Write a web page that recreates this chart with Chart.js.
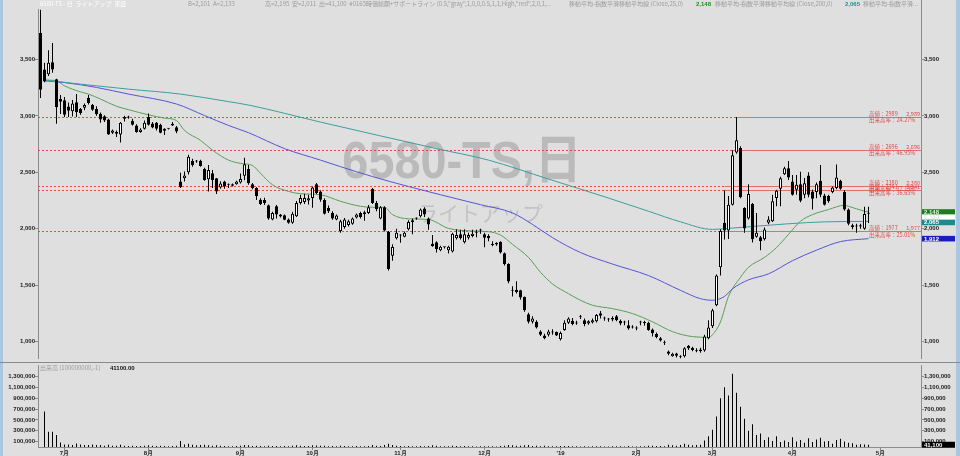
<!DOCTYPE html>
<html>
<head>
<meta charset="utf-8">
<script src="https://cdn.jsdelivr.net/npm/chart.js@4.4.1/dist/chart.umd.min.js"></script>
<style>
  html, body { margin: 0; padding: 0; background: #dfdfdf; }
  #wrap { position: relative; width: 960px; height: 456px; overflow: hidden; background: #dfdfdf; }
  #price { position: absolute; left: 0; top: 0; }
  #vol { position: absolute; left: 0; top: 362px; }
</style>
</head>
<body>
<div id="wrap">
  <canvas id="price" width="960" height="362"></canvas>
  <canvas id="vol" width="960" height="94"></canvas>
</div>
<script>
// ---- data (one entry per trading day, 2018/6/22 .. 2019/4/26) ----
const monthTickIdx = [6, 27, 50, 68, 90, 111, 130, 149, 168, 188, 210];
const monthLabels = ['7月', '8月', '9月', '10月', '11月', '12月', "'19", '2月', '3月', '4月', '5月'];
const priceTicks = [1000, 1500, 2000, 2500, 3000, 3500];
const volumeTicks = [100000, 300000, 500000, 700000, 900000, 1100000, 1300000];

const opens = [
  3734,3412,3368,3476,3325,3149,3138,3082,3040,3120,
  3061,3073,3160,3096,3061,3018,2997,2968,2850,2857,
  2836,2989,2985,2956,2915,2857,2886,2991,2933,2939,
  2921,2886,2886,2930,2900,2419,2447,2500,2603,2595,
  2603,2529,2439,2491,2447,2366,2418,2390,2380,2395,
  2410,2470,2529,2395,2360,2257,2255,2208,2082,2200,
  2125,2120,2082,2053,2111,2228,2237,2250,2272,2395,
  2330,2257,2184,2140,2082,1980,2015,2032,2044,2100,
  2140,2130,2140,2351,2228,2090,2190,1973,1760,1915,
  1940,1930,1995,2060,2090,2110,2180,2090,1868,1880,
  1810,1835,1810,1798,1915,1950,1880,1920,1935,1965,
  1985,1950,1935,1855,1860,1885,1783,1687,1450,1460,
  1455,1395,1243,1175,1175,1090,1053,1060,1080,1085,
  1020,1103,1167,1185,1160,1220,1190,1160,1170,1180,
  1250,1205,1195,1195,1225,1185,1170,1145,1125,1115,
  1175,1170,1167,1108,1068,1030,990,912,870,895,
  870,870,962,945,920,915,920,1030,1135,1322,
  1658,2053,1985,2213,2675,2715,2184,2090,2219,1930,
  1925,1906,2053,2067,2272,2355,2483,2535,2418,2345,
  2395,2301,2471,2330,2325,2425,2295,2290,2325,2360,
  2425,2325,2170,2030,2020,2020,2000,2133
];
const highs = [
  3940,3470,3582,3646,3330,3184,3167,3118,3140,3193,
  3070,3110,3184,3105,3085,3030,3005,2975,2880,2870,
  2945,3000,3000,2975,2925,2890,2960,3020,2945,2945,
  2930,2890,2890,2945,2910,2497,2506,2655,2620,2610,
  2612,2540,2564,2520,2450,2420,2425,2400,2400,2425,
  2490,2630,2564,2405,2367,2270,2275,2215,2150,2210,
  2130,2125,2090,2150,2245,2300,2310,2300,2375,2405,
  2340,2270,2205,2155,2125,2080,2095,2080,2100,2135,
  2150,2160,2210,2360,2245,2200,2200,1980,1862,2000,
  1950,1975,2075,2090,2100,2180,2190,2100,1945,1890,
  1850,1840,1850,1965,1995,1990,1995,1965,1990,1990,
  2000,1965,1950,1890,1880,1890,1790,1695,1490,1535,
  1460,1400,1255,1225,1190,1100,1070,1105,1110,1090,
  1090,1190,1215,1210,1185,1235,1205,1190,1205,1245,
  1270,1220,1210,1225,1235,1195,1185,1190,1145,1135,
  1185,1185,1175,1115,1080,1040,1010,920,900,900,
  880,950,970,955,940,945,1060,1190,1290,1595,
  1995,2341,2290,2696,2989,2730,2190,2395,2228,2140,
  1935,2010,2110,2300,2345,2460,2550,2600,2475,2475,
  2505,2450,2500,2345,2410,2565,2310,2300,2375,2570,
  2435,2340,2180,2045,2045,2045,2195,2195
];
const lows = [
  3158,3298,3354,3383,2930,3017,2991,2991,2995,2990,
  3010,3050,3100,3045,3000,2940,2945,2833,2840,2813,
  2763,2950,2975,2915,2850,2850,2880,2915,2890,2870,
  2845,2830,2880,2910,2845,2360,2419,2480,2550,2585,
  2550,2425,2330,2360,2307,2354,2355,2360,2375,2390,
  2400,2430,2390,2350,2255,2210,2210,2080,2075,2090,
  2100,2075,2045,2045,2105,2215,2220,2215,2185,2307,
  2240,2125,2140,2080,2075,1965,2000,2020,2035,2090,
  2090,2070,2130,2220,2155,2085,1975,1630,1716,1905,
  1875,1925,1985,1950,2080,2100,2105,1990,1840,1790,
  1800,1825,1780,1790,1905,1905,1870,1905,1925,1925,
  1955,1835,1890,1845,1850,1780,1675,1518,1400,1425,
  1370,1265,1160,1160,1115,1050,1020,1045,1060,1050,
  1010,1095,1155,1145,1150,1200,1135,1150,1160,1170,
  1205,1185,1175,1180,1180,1145,1145,1105,1115,1100,
  1145,1140,1095,1045,1030,1000,970,880,865,860,
  850,860,925,915,905,900,910,1020,1120,1312,
  1585,1905,1910,2205,2665,2270,1965,2082,1877,1920,
  1810,1895,2040,2060,2200,2200,2475,2432,2295,2300,
  2235,2270,2280,2170,2270,2280,2205,2230,2315,2350,
  2345,2160,2030,1995,1965,2000,1990,2050
];
const closes = [
  3231,3304,3471,3412,3076,3125,3009,3046,3110,3033,
  3026,3096,3114,3055,3015,2968,2959,2836,2870,2842,
  2939,2974,2990,2921,2857,2880,2939,2921,2898,2886,
  2851,2868,2886,2915,2862,2368,2471,2638,2564,2600,
  2555,2432,2520,2432,2330,2400,2374,2390,2395,2418,
  2440,2571,2404,2360,2287,2220,2228,2090,2140,2125,
  2108,2080,2053,2132,2228,2272,2272,2270,2366,2316,
  2257,2132,2155,2090,2117,2067,2082,2067,2090,2125,
  2105,2145,2190,2228,2175,2190,1985,1643,1839,1965,
  1945,1965,2060,2075,2090,2170,2125,2038,1845,1820,
  1840,1835,1840,1956,1945,1915,1950,1945,1955,1965,
  1985,1920,1915,1862,1875,1790,1687,1532,1450,1440,
  1390,1278,1175,1205,1125,1060,1030,1090,1085,1055,
  1075,1167,1205,1155,1170,1220,1155,1180,1190,1235,
  1230,1205,1195,1210,1190,1160,1168,1115,1125,1115,
  1170,1165,1103,1073,1040,1010,990,892,892,875,
  865,942,942,925,915,930,1044,1125,1278,1585,
  1980,1985,2213,2652,2784,2278,2003,2307,1906,1965,
  1890,1994,2082,2243,2336,2447,2535,2454,2301,2389,
  2248,2404,2301,2265,2395,2301,2213,2243,2365,2454,
  2355,2170,2044,2015,2020,2030,2130,2133
];
const volumes = [
  null,654000,279000,279000,220000,84000,48000,48000,36000,66000,
  48000,36000,36000,45000,36000,36000,23000,40000,25000,25000,
  40000,25000,20000,25000,20000,18000,25000,30000,22000,20000,
  25000,20000,15000,18000,22000,110000,45000,60000,40000,30000,
  35000,40000,30000,25000,30000,22000,18000,15000,15000,18000,
  22000,35000,30000,20000,25000,20000,15000,25000,18000,20000,
  15000,18000,15000,25000,30000,22000,20000,18000,30000,28000,
  22000,25000,15000,18000,15000,25000,18000,15000,15000,18000,
  15000,15000,20000,35000,22000,20000,35000,60000,35000,25000,
  20000,15000,18000,15000,12000,18000,15000,20000,30000,25000,
  15000,12000,15000,25000,18000,15000,18000,12000,12000,10000,
  12000,15000,12000,15000,10000,20000,25000,35000,30000,25000,
  22000,30000,35000,20000,25000,15000,22000,15000,12000,15000,
  18000,20000,18000,15000,12000,10000,15000,10000,12000,15000,
  12000,10000,10000,12000,12000,15000,10000,18000,10000,10000,
  12000,15000,25000,22000,20000,18000,15000,40000,30000,25000,
  35000,60000,40000,30000,35000,40000,120000,200000,320000,560000,
  900000,1100000,950000,1350000,1000000,740000,520000,300000,420000,220000,
  250000,130000,180000,110000,200000,90000,120000,90000,180000,100000,
  130000,80000,160000,90000,140000,170000,100000,110000,60000,130000,
  150000,100000,80000,70000,40000,50000,45000,41100
];

// moving average lines, [day index, value] read at sample points
const ema25 = [[1,3318],[4,3310],[6,3266],[10,3213],[12,3193],[15,3149],[19,3085],[22,3055],[27,3009],[31,2980],
  [34,2959],[36,2871],[40,2783],[43,2696],[47,2608],[50,2579],[53,2560],[55,2491],[58,2389],[62,2331],
  [65,2310],[70,2301],[75,2243],[80,2199],[83,2190],[86,2190],[88,2125],[92,2088],[97,2082],[102,2003],
  [108,1980],[112,1974],[115,1944],[118,1862],[122,1746],[125,1614],[128,1511],[132,1424],[135,1366],[138,1322],
  [143,1292],[148,1248],[153,1175],[158,1088],[163,1044],[167,1038],[168,1060],[170,1175],[172,1400],[175,1570],
  [177,1658],[181,1746],[184,1833],[187,1950],[190,2067],[193,2125],[197,2170],[201,2208],[202,2199],[206,2155],[207,2148]];
const ema200 = [[1,3318],[10,3281],[22,3237],[35,3193],[47,3126],[52,3096],[70,2945],[99,2710],[112,2608],[127,2440],
  [142,2272],[152,2155],[160,2061],[168,1994],[172,2003],[179,2023],[187,2044],[196,2061],[207,2065]];
const ema75 = [[1,3310],[6,3295],[14,3252],[22,3193],[34,3105],[41,3003],[47,2915],[52,2851],[61,2710],[70,2608],
  [75,2550],[83,2462],[92,2374],[100,2301],[110,2213],[118,2140],[123,2038],[128,1921],[135,1789],[143,1687],
  [152,1585],[160,1454],[165,1380],[168,1366],[171,1400],[173,1468],[177,1547],[182,1600],[188,1717],[194,1810],
  [200,1886],[207,1912]];

// support lines: level, day it starts from, volume ratio text
const supportLevels = [2989, 2696, 2380, 2341, 1977];
const supportFrom = [174, 173, 171, 171, 171];
const supportRatio = ['24.27%', '46.95%', '27.13%', '36.65%', '25.01%'];

// last values shown on the right axis
const lastEma25 = 2148, lastClose = 2133, lastEma200 = 2065, lastEma75 = 1912, lastVolume = 41100;

// ---- styles ----
const style = {
  axis: '#8c8c8c',
  tick: '#1c1c1c',
  up: '#ffffff',
  down: '#000000',
  ema25: '#55a055',
  ema200: '#3c9e9e',
  ema75: '#5454d8',
  support: '#e04a4a',
  frame: '#aac6e2',
};
const tickFont = { family: 'Liberation Sans', size: 6, weight: 'bold' };
const fmt = (v) => Math.round(v).toLocaleString('en-US');
const X_MIN = -0.625, X_MAX = 220.125;

const bodies = opens.map((o, i) => ({ x: i, y: [o, closes[i]] }));
const bodyColors = opens.map((o, i) => (closes[i] > o ? style.up : style.down));
const wicks = lows.map((l, i) => ({ x: i, y: [l, highs[i]] }));
const pts = (arr) => arr.map(([x, y]) => ({ x, y }));

function yAxis(position, min, max, tickValues, width) {
  return {
    position, min, max,
    afterFit(s) { s.width = width; },
    afterBuildTicks(s) { s.ticks = tickValues.map((v) => ({ value: v })); },
    ticks: { font: tickFont, color: style.tick, padding: 0, callback: (v) => fmt(v) },
    grid: { drawOnChartArea: false, tickLength: 3, color: style.axis },
    border: { color: style.axis },
  };
}

function frameStrips(ctx, h) {
  ctx.fillStyle = style.frame;
  ctx.fillRect(0, 0, 3, h);
  ctx.fillRect(956, 0, 4, h);
}

const pricePaint = {
  id: 'pricePaint',
  beforeDatasetsDraw(chart) {
    const { ctx, chartArea: a, scales } = chart;
    const x = scales.x, y = scales.y;
    ctx.save();
    // watermark
    ctx.fillStyle = '#bababa';
    ctx.textAlign = 'center';
    ctx.textBaseline = 'alphabetic';
    ctx.save();
    ctx.translate(462, 178);
    ctx.scale(0.9, 1);
    ctx.font = 'bold 52px "Liberation Sans", "Noto Sans CJK JP"';
    ctx.fillText('6580-TS,日', 0, 0);
    ctx.restore();
    ctx.fillStyle = '#c3c3c3';
    ctx.font = '21px "Noto Sans CJK JP"';
    ctx.fillText('ライトアップ', 480, 221);
    // support lines
    ctx.lineWidth = 1;
    supportLevels.forEach((lv, k) => {
      const py = Math.round(y.getPixelForValue(lv)) + 0.5;
      const px = x.getPixelForValue(supportFrom[k]);
      ctx.strokeStyle = style.support;
      ctx.setLineDash([2, 2]);
      ctx.beginPath(); ctx.moveTo(a.left, py); ctx.lineTo(px, py); ctx.stroke();
      ctx.setLineDash([]);
      ctx.strokeStyle = 'rgba(226,96,96,0.9)';
      ctx.beginPath(); ctx.moveTo(px, py); ctx.lineTo(a.right, py); ctx.stroke();
    });
    ctx.restore();
  },
  afterDraw(chart) {
    const { ctx, chartArea: a, scales } = chart;
    const y = scales.y;
    ctx.save();
    frameStrips(ctx, chart.height);
    // axis line runs up through the header
    ctx.strokeStyle = style.axis;
    ctx.beginPath(); ctx.moveTo(a.right + 0.5, 0); ctx.lineTo(a.right + 0.5, a.top); ctx.stroke();

    // support labels
    ctx.fillStyle = style.support;
    ctx.font = '5.5px "Noto Sans CJK JP"';
    supportLevels.forEach((lv, k) => {
      const py = y.getPixelForValue(lv);
      ctx.textAlign = 'left';
      ctx.fillText('高値：' + lv, 869, py - 1.3);
      ctx.fillText('出来高率：' + supportRatio[k], 869, py + 5.2);
      ctx.textAlign = 'right';
      ctx.fillText(fmt(lv), 920, py - 1.3);
    });

    // header line
    ctx.textAlign = 'left';
    ctx.textBaseline = 'middle';
    ctx.font = '6px "Noto Sans CJK JP"';
    const head = [
      [40, '6580-TS - 日  ライトアップ  東証', '#ffffff'],
      [188, 'B=2,101  A=2,133', '#9c9c9c'],
      [265, '高=2,195  安=2,011  出=41,100  #0165時価総額+サポートライン (0.5,"gray",1,0,0,0.5,1,1,High,"red",2,0,1,...', '#9c9c9c'],
      [569, '移動平均-指数平滑移動平均線 (Close,25,0)', '#9c9c9c'],
      [715, '移動平均-指数平滑移動平均線 (Close,200,0)', '#9c9c9c'],
      [863, '移動平均-指数平滑...', '#9c9c9c'],
    ];
    head.forEach(([hx, t, c]) => { ctx.fillStyle = c; ctx.fillText(t, hx, 4); });
    ctx.font = 'bold 6px "Liberation Sans"';
    ctx.fillStyle = '#1f8a1f'; ctx.fillText(fmt(lastEma25), 696, 4);
    ctx.fillStyle = '#1f8f8f'; ctx.fillText(fmt(lastEma200), 845, 4);

    // value boxes on the right axis
    const boxes = [
      { v: lastEma25, bg: '#1d7a1d', fg: '#d8f0d8' },
      { v: lastClose, bg: '#ffffff', fg: '#e6e6e6' },
      { v: lastEma200, bg: '#1e8a8a', fg: '#ffffff' },
      { v: lastEma75, bg: '#1c1cbe', fg: '#ffffff' },
    ].map((b) => ({ ...b, py: y.getPixelForValue(b.v) })).sort((p, q) => p.py - q.py);
    for (let i = 1; i < boxes.length; i++) {
      if (boxes[i].py - boxes[i - 1].py < 5.2) boxes[i].py = boxes[i - 1].py + 5.2;
    }
    ctx.font = 'bold 6px "Liberation Sans"';
    boxes.forEach((b) => {
      ctx.fillStyle = b.bg;
      ctx.fillRect(a.right + 1, b.py - 2.8, 33, 5.6);
      ctx.fillStyle = b.fg;
      ctx.fillText(fmt(b.v), a.right + 3, b.py + 0.2);
    });
    ctx.restore();
  },
};

const volPaint = {
  id: 'volPaint',
  afterDraw(chart) {
    const { ctx, chartArea: a, scales } = chart;
    const y = scales.y;
    ctx.save();
    frameStrips(ctx, chart.height);
    ctx.strokeStyle = '#8a8a8a';
    ctx.lineWidth = 1;
    ctx.beginPath(); ctx.moveTo(0, 0.5); ctx.lineTo(960, 0.5); ctx.stroke();
    ctx.textBaseline = 'middle';
    ctx.textAlign = 'left';
    ctx.font = '6px "Noto Sans CJK JP"';
    ctx.fillStyle = '#9c9c9c';
    ctx.fillText('出来高 (100000000,-1)', 40, 6);
    ctx.font = 'bold 6px "Liberation Sans"';
    ctx.fillStyle = '#111111';
    ctx.fillText('41100.00', 110, 6);
    const py = y.getPixelForValue(lastVolume);
    ctx.fillStyle = '#000000';
    ctx.fillRect(a.right + 1, py - 3, 33, 6);
    ctx.fillStyle = '#ffffff';
    ctx.fillText(fmt(lastVolume), a.right + 3, py + 0.2);
    ctx.restore();
  },
};

const common = {
  responsive: false,
  animation: false,
  events: [],
  plugins: { legend: { display: false }, tooltip: { enabled: false } },
};

new Chart(document.getElementById('price'), {
  type: 'bar',
  data: {
    datasets: [
      { type: 'line', data: pts(ema200), borderColor: style.ema200, borderWidth: 1, pointRadius: 0, cubicInterpolationMode: 'monotone', order: 3, yAxisID: 'y' },
      { type: 'line', data: pts(ema75), borderColor: style.ema75, borderWidth: 1, pointRadius: 0, cubicInterpolationMode: 'monotone', order: 3, yAxisID: 'y' },
      { type: 'line', data: pts(ema25), borderColor: style.ema25, borderWidth: 1, pointRadius: 0, cubicInterpolationMode: 'monotone', order: 3, yAxisID: 'y' },
      { data: wicks, backgroundColor: '#000000', borderWidth: 0, barThickness: 1, inflateAmount: 0, grouped: false, order: 2, yAxisID: 'y' },
      { data: bodies, backgroundColor: bodyColors, borderColor: '#000000', borderWidth: 1, borderSkipped: false,
        barThickness: 3, minBarLength: 1, inflateAmount: 0, grouped: false, order: 1, yAxisID: 'y' },
    ],
  },
  options: {
    ...common,
    layout: { padding: { top: 9, left: 0, right: 0, bottom: 0 } },
    scales: {
      x: { type: 'linear', min: X_MIN, max: X_MAX, offset: false, grid: { offset: false }, display: false },
      y: yAxis('left', 851, 3947, priceTicks, 38),
      y2: yAxis('right', 851, 3947, priceTicks, 39),
    },
  },
  plugins: [pricePaint],
});

new Chart(document.getElementById('vol'), {
  type: 'bar',
  data: {
    datasets: [
      { data: volumes.map((v, i) => ({ x: i, y: v })), backgroundColor: '#000000', borderWidth: 0,
        barThickness: 1, inflateAmount: 0, grouped: false, yAxisID: 'y' },
    ],
  },
  options: {
    ...common,
    layout: { padding: { top: 1, left: 0, right: 0, bottom: 0 } },
    scales: {
      x: {
        type: 'linear', min: X_MIN, max: X_MAX, offset: false,
        afterFit(s) { s.height = 9; },
        afterBuildTicks(s) { s.ticks = monthTickIdx.map((v) => ({ value: v })); },
        ticks: { font: tickFont, color: style.tick, padding: 0, maxRotation: 0, autoSkip: false,
          callback: (v) => monthLabels[monthTickIdx.indexOf(v)] },
        grid: { drawOnChartArea: false, tickLength: 3, color: style.axis, offset: false },
        border: { color: style.axis },
      },
      y: yAxis('left', 0, 1500000, volumeTicks, 38),
      y2: yAxis('right', 0, 1500000, volumeTicks, 39),
    },
  },
  plugins: [volPaint],
});
</script>
</body>
</html>
